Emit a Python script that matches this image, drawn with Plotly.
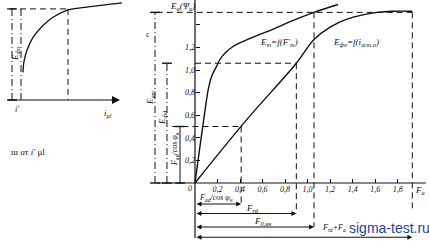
import numpy as np
import plotly.graph_objects as go

# ---------------- main chart data ----------------
# curve 1: E_m = f(F'_m)
F_m = [0, 0.045, 0.09, 0.12, 0.15, 0.19, 0.24, 0.34, 0.49, 0.69, 0.85, 1.057, 1.27]
E_m = [0, 0.33, 0.65, 0.84, 0.95, 1.03, 1.12, 1.21, 1.28, 1.36, 1.43, 1.51, 1.58]
# curve 2: E_fo = f(i_vst.o)
i_f = [0, 0.45, 0.90, 1.057, 1.20, 1.35, 1.50, 1.62, 1.75, 1.93]
E_f = [0, 0.55, 1.06, 1.27, 1.38, 1.45, 1.49, 1.51, 1.52, 1.52]

x_tickvals = [0.2, 0.4, 0.6, 0.8, 1.0, 1.2, 1.4, 1.6, 1.8]
x_ticktext = ["0,2", "0,4", "0,6", "0,8", "1,0", "1,2", "1,4", "1,6", "1,8"]
y_tickvals = [0.2, 0.4, 0.6, 0.8, 1.0, 1.2, 1.4]
y_ticktext = ["0,2", "0,4", "0,6", "0,8", "1,0", "1,2", ""]

# key values read from the construction
F_ad = 0.41     # F_ad / cos phi_n
E_ad = 0.50
F_rd = 0.90
E_d = 1.06
F_0nn = 1.057
E_a = 1.51
F_a = 1.93

# ---------------- left (small) chart data ----------------
i_mu = [0.13, 0.14, 0.17, 0.23, 0.33, 0.43, 0.58, 0.77, 1.12]
E_fo = [0.30, 0.42, 0.54, 0.68, 0.81, 0.90, 0.98, 1.01, 1.055]
i_mu_n = 0.58
E_fo_n = 0.99
i_mu_r = 0.11

INK = "#111111"
SERIF = "Liberation Serif"
DASH = "6px,4px"
DASHDOT = "7px,3px,1px,3px"

fig = go.Figure()


def line(xs, ys, dash="solid", width=1.0, ax="x", ay="y", shape="linear", markers=False):
    fig.add_trace(go.Scatter(
        x=xs, y=ys, xaxis=ax, yaxis=ay, mode="lines+markers" if markers else "lines",
        line=dict(color=INK, width=width, dash=dash, shape=shape),
        marker=dict(symbol="line-ew-open", size=7, line=dict(color=INK, width=1.4)),
        hoverinfo="skip", showlegend=False))


# ---- main chart ----
# axes lines
line([-0.34, 2.05], [0, 0], width=1.2)
line([0, 0], [-0.487, 1.62], width=1.2)
# curves
line(F_m, E_m, width=1.4, shape="spline")
line(i_f, E_f, width=1.4, shape="spline")
# construction dashed lines
line([-0.34, F_a], [E_a, E_a], dash=DASH)
line([0, F_rd], [E_d, E_d], dash=DASH)
line([-0.20, F_ad], [E_ad, E_ad], dash=DASH)
line([F_ad, F_ad], [E_ad, -0.19], dash=DASH)
line([F_rd, F_rd], [E_d, -0.27], dash=DASH)
line([F_0nn, F_0nn], [E_a, -0.39], dash=DASH)
line([F_a, F_a], [E_a, -0.24], dash=DASH)
# left dimension lines
line([-0.355, -0.355], [0, E_a], dash=DASHDOT, markers=True)
line([-0.249, -0.249], [0, E_d], dash=DASHDOT, markers=True)
line([-0.133, -0.133], [0, E_ad], width=1.0, markers=True)

# bottom dimension arrows
for xe, yl in [(F_ad, -0.186), (F_rd, -0.27), (F_0nn, -0.39), (F_a, -0.48)]:
    fig.add_annotation(x=xe, y=yl, ax=0, ay=yl, xref="x", yref="y", axref="x", ayref="y",
                       showarrow=True, arrowhead=2, arrowsize=0.9, arrowwidth=1.1,
                       arrowside="end+start", arrowcolor=INK, text="")

# ---- left chart ----
line([-0.02, 1.02], [0, 0], ax="x2", ay="y2", width=1.2)
fig.add_annotation(x=1.1, y=0, ax=1.0, ay=0, xref="x2", yref="y2", axref="x2", ayref="y2",
                   showarrow=True, arrowhead=2, arrowsize=1, arrowwidth=1.6, arrowcolor=INK, text="")
line(i_mu, E_fo, ax="x2", ay="y2", width=1.3, shape="spline")
line([0.0, i_mu_n], [E_fo_n, E_fo_n], ax="x2", ay="y2", dash=DASH)
line([i_mu_n, i_mu_n], [E_fo_n, 0], ax="x2", ay="y2", dash=DASH)
line([i_mu_r, i_mu_r], [0, E_fo_n], ax="x2", ay="y2", dash=DASHDOT)
line([0.02, 0.02], [0, E_fo_n], ax="x2", ay="y2", dash=DASHDOT, markers=True)


def txt(x, y, s, size=9, xref="x", yref="y", angle=0, xanchor="center", color=INK, family=SERIF):
    fig.add_annotation(x=x, y=y, xref=xref, yref=yref, text=s, showarrow=False, textangle=angle,
                       xanchor=xanchor, yanchor="middle",
                       font=dict(family=family, size=size, color=color))


txt(-0.044, -0.045, "<i>0</i>", size=8)
txt(-0.115, 1.566, "<i>E<sub>a</sub>(Ψ<sub>a</sub>)</i>")
txt(0.745, 1.24, "<i>E<sub>m</sub>=f(F'<sub>m</sub>)</i>")
txt(1.43, 1.24, "<i>E<sub>фо</sub>=f(i<sub>вст.о</sub>)</i>")
txt(2.0, -0.065, "<i>F<sub>a</sub></i>")
txt(-0.40, 0.76, "<i>E<sub>нт</sub></i>", angle=-90)
txt(-0.293, 0.575, "<i>E<sub>фd</sub></i>", angle=-90)
txt(-0.178, 0.30, "<i>F<sub>ad</sub>/cos φ<sub>н</sub></i>", size=8, angle=-90)
txt(0.19, -0.135, "<i>F<sub>ad</sub>/cos φ<sub>н</sub></i>", size=8)
txt(0.51, -0.225, "<i>F<sub>rd</sub></i>")
txt(0.60, -0.342, "<i>F<sub>0,нн</sub></i>")
txt(1.11, -0.40, "<i>F<sub>rd</sub>+F<sub>a</sub></i>", size=8, xanchor="left")

txt(0.05, 0.5, "<i>E<sub>фо</sub></i>", xref="x2", yref="y2", angle=-90)
txt(0.07, -0.10, "<i>i'</i>", xref="x2", yref="y2", size=8)
txt(0.98, -0.15, "<i>i<sub>μl</sub></i>", xref="x2", yref="y2", size=9)
txt(0.065, 0.369, "ш от <i>i'</i> μl", xref="paper", yref="paper", size=9)
txt(0.345, 0.855, "c", xref="paper", yref="paper", size=8)

# watermark
txt(0.907, 0.054, "sigma-test.ru", xref="paper", yref="paper", size=14,
    color="#27449a", family="Liberation Sans")

tickfont = dict(family=SERIF, size=8, color=INK, style="italic")
fig.update_layout(
    width=429, height=241, margin=dict(l=0, r=0, t=0, b=0),
    plot_bgcolor="white", paper_bgcolor="white", showlegend=False,
    xaxis=dict(domain=[0, 1], range=[-1.7318, 2.0782], anchor="free", position=1 - 183 / 241,
               showgrid=False, zeroline=False, showline=False, tickvals=x_tickvals,
               ticktext=x_ticktext, ticks="inside", ticklen=4, tickcolor=INK, tickfont=tickfont),
    yaxis=dict(domain=[0, 1], range=[-0.5133, 1.6195], anchor="free", position=195 / 429,
               showgrid=False, zeroline=False, showline=False, tickvals=y_tickvals,
               ticktext=y_ticktext, ticks="inside", ticklen=4, tickcolor=INK, tickfont=tickfont),
    xaxis2=dict(domain=[0, 0.3], range=[-0.1, 1.187], anchor="y2", visible=False),
    yaxis2=dict(domain=[0.5, 1], range=[-0.2228, 1.087], anchor="x2", visible=False),
)

fig.write_html("out.html")
